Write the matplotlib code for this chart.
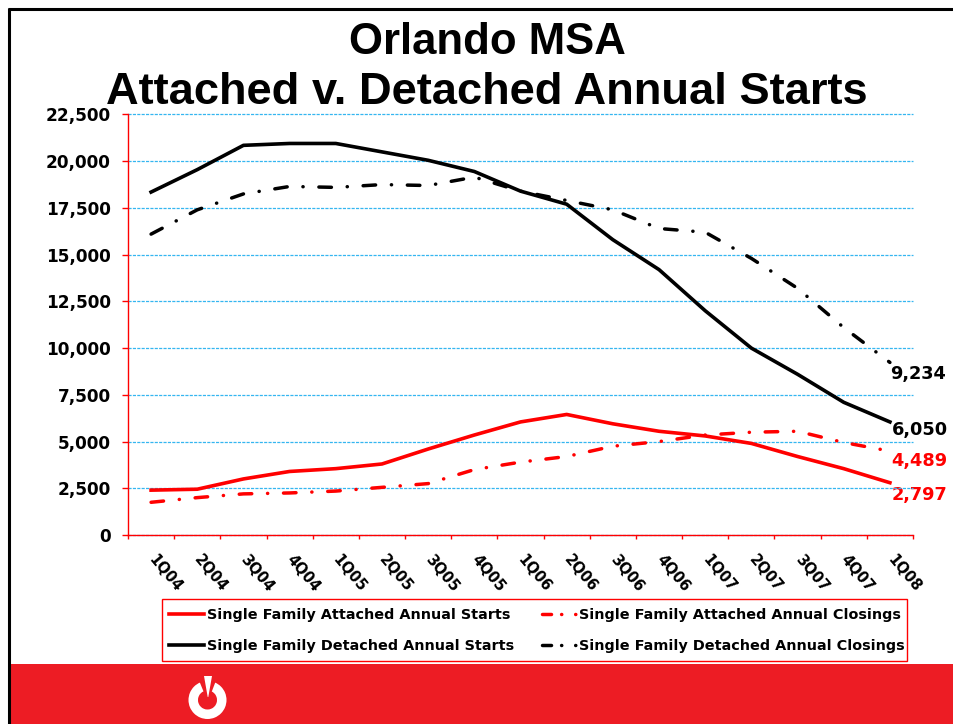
import matplotlib
matplotlib.use('Agg')
import matplotlib.pyplot as plt
from matplotlib.lines import Line2D
from matplotlib.patches import Rectangle, Wedge, Polygon

quarters = ['1Q04', '2Q04', '3Q04', '4Q04', '1Q05', '2Q05', '3Q05', '4Q05', '1Q06',
            '2Q06', '3Q06', '4Q06', '1Q07', '2Q07', '3Q07', '4Q07', '1Q08']
attached_starts = [2400, 2450, 3000, 3400, 3550, 3800, 4600, 5350, 6050,
                   6450, 5950, 5550, 5300, 4900, 4200, 3550, 2797]
attached_closings = [1750, 2000, 2200, 2250, 2350, 2550, 2750, 3500, 3900,
                     4200, 4750, 5000, 5350, 5500, 5550, 4950, 4489]
detached_starts = [18350, 19550, 20850, 20950, 20950, 20500, 20050, 19450, 18400,
                   17700, 15800, 14200, 12000, 10000, 8600, 7100, 6050]
detached_closings = [16100, 17400, 18250, 18650, 18600, 18750, 18700, 19150, 18400,
                     17900, 17400, 16400, 16200, 14800, 13200, 11100, 9234]
yticks = [0, 2500, 5000, 7500, 10000, 12500, 15000, 17500, 20000, 22500]

W, H = 954, 724
RED = '#ff0000'
BAND = '#ed1c24'
dashdot = (0, (3.6, 4.55, 0.05, 4.55))
legend_dash = (0, (2.6, 2.9, 0.05, 4, 0.05, 9))

fig = plt.figure(figsize=(W / 100, H / 100), dpi=100)

# page furniture, in pixel coordinates
bg = fig.add_axes([0, 0, 1, 1])
bg.set_xlim(0, W)
bg.set_ylim(H, 0)
bg.axis('off')
bg.add_patch(Rectangle((10, 664), W - 10, 60, color=BAND, lw=0))
bg.plot([9, 9], [H, 8], color='black', lw=2.2, solid_capstyle='butt')
bg.plot([8, W], [8.5, 8.5], color='black', lw=2.2, solid_capstyle='butt')
# logo
bg.add_patch(Wedge((207.5, 700), 19, 0, 360, width=9.5, color='white', lw=0))
bg.add_patch(Polygon([[198, 678], [217, 678], [208.5, 700], [207, 700]], color=BAND, lw=0))
bg.add_patch(Polygon([[204, 676], [212, 676], [208.3, 697], [207.7, 697]], color='white', lw=0))
bg.text(487, 42, 'Orlando MSA', ha='center', va='center', fontsize=31.5,
        fontweight='bold', family='Liberation Sans')
bg.text(487, 93, 'Attached v. Detached Annual Starts', ha='center', va='center', fontsize=32.6,
        fontweight='bold', family='Liberation Sans')

ax = fig.add_axes([128 / W, 1 - 535 / H, 785 / W, 420.5 / H])
ax.patch.set_alpha(0)
x = list(range(len(quarters)))
ax.plot(x, attached_starts, color=RED, lw=2.6, zorder=3)
ax.plot(x, detached_starts, color='black', lw=2.6, zorder=3)
ax.plot(x, attached_closings, color=RED, lw=2.5, ls=dashdot, dash_capstyle='round', zorder=3)
ax.plot(x, detached_closings, color='black', lw=2.5, ls=dashdot, dash_capstyle='round', zorder=3)

ax.set_xlim(-0.5, len(quarters) - 0.5)
ax.set_ylim(0, 22500)
ax.set_yticks(yticks)
ax.set_yticklabels([f'{v:,}' for v in yticks], fontsize=12.2, fontweight='bold')
ax.set_xticks([i - 0.5 for i in range(len(quarters) + 1)])
ax.set_xticklabels([])
ax.tick_params(axis='y', color=RED, width=1, length=4.5, direction='out', pad=8)
ax.tick_params(axis='x', color=RED, width=1, length=3, direction='out')
ax.grid(axis='y', color='#35b6f0', lw=0.9, ls=(0, (2.5, 1)))
for g in ax.get_ygridlines():
    g.set_clip_on(False)
ax.set_axisbelow(True)
for s in ['top', 'right']:
    ax.spines[s].set_visible(False)
for s in ['left', 'bottom']:
    ax.spines[s].set_color(RED)
    ax.spines[s].set_linewidth(1)

for i, q in enumerate(quarters):
    ax.annotate(q, (i, 0), xytext=(10, -12), textcoords='offset points', ha='center', va='top',
                rotation=-50, fontsize=10.5, fontweight='bold', annotation_clip=False)

for val, col, px, ypx in [(detached_closings[-1], 'black', 918, 374), (detached_starts[-1], 'black', 919.5, 430),
                          (attached_closings[-1], RED, 919.5, 461), (attached_starts[-1], RED, 919.5, 495)]:
    bg.text(px, ypx, f'{val:,}', color=col, ha='center', va='center', fontsize=12.8, fontweight='bold')

# legend box is drawn by hand, the entries overrun the padding a legend frame would need
ax.add_patch(Rectangle((162 / W, 1 - 661 / H), 745 / W, 62 / H, transform=fig.transFigure,
                       fc='white', ec=RED, lw=1, clip_on=False, zorder=4))
handles = [Line2D([], [], color=RED, lw=2.6),
           Line2D([], [], color='black', lw=2.6),
           Line2D([], [], color=RED, lw=2.5, ls=legend_dash, dash_capstyle='round'),
           Line2D([], [], color='black', lw=2.5, ls=legend_dash, dash_capstyle='round')]
labels = ['Single Family Attached Annual Starts', 'Single Family Detached Annual Starts',
          'Single Family Attached Annual Closings', 'Single Family Detached Annual Closings']
leg = ax.legend(handles, labels, ncol=2, loc='upper left', bbox_to_anchor=(169 / W, 1 - 608.5 / H),
                bbox_transform=fig.transFigure, borderaxespad=0, borderpad=0,
                prop={'weight': 'bold', 'size': 10.35}, frameon=False,
                handlelength=2.4, handletextpad=0.22, columnspacing=1.95, labelspacing=1.15)
leg.set_zorder(5)

fig.savefig('out.png', dpi=100)
